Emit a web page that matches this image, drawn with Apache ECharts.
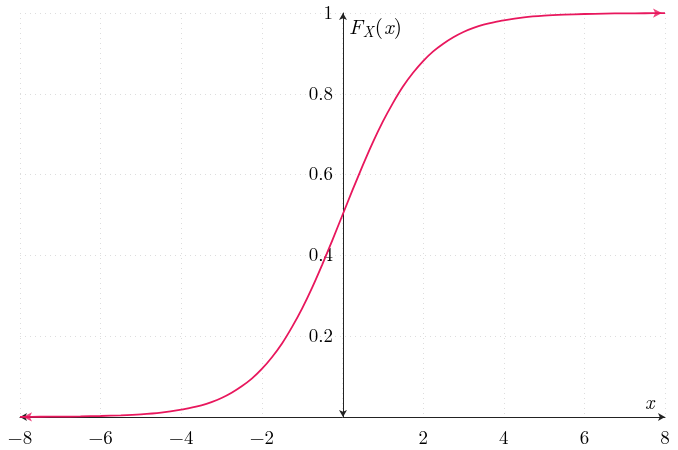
<!DOCTYPE html>
<html><head><meta charset="utf-8">
<script src="https://cdn.jsdelivr.net/npm/echarts@6/dist/echarts.min.js"></script>
<style>html,body{margin:0;padding:0;background:#fff}#c{width:678px;height:450px}</style>
</head><body><div id="c"></div>
<script>
const xValues = [-8,-7.5,-7,-6.5,-6,-5.5,-5,-4.5,-4,-3.75,-3.5,-3.25,-3,-2.75,-2.5,-2.25,-2,-1.75,-1.5,-1.25,-1,-0.75,-0.5,-0.25,0,0.25,0.5,0.75,1,1.25,1.5,1.75,2,2.25,2.5,2.75,3,3.25,3.5,3.75,4,4.5,5,5.5,6,6.5,7,7.5,8];
const cdfValues = [0.0003,0.0006,0.0009,0.0015,0.0025,0.0041,0.0067,0.011,0.018,0.023,0.029,0.037,0.047,0.060,0.076,0.095,0.119,0.148,0.182,0.223,0.269,0.321,0.378,0.438,0.5,0.562,0.622,0.679,0.731,0.777,0.818,0.852,0.881,0.905,0.924,0.940,0.953,0.963,0.971,0.977,0.982,0.989,0.9933,0.9959,0.9975,0.9985,0.9991,0.9994,0.9997];
const xTicks = [-8,-6,-4,-2,2,4,6,8];
const yTicks = [0.2,0.4,0.6,0.8,1];
const xLabel = 'x';

const serif = '"Latin Modern Roman","Liberation Serif","DejaVu Serif",serif';
const red = '#e8175d';
const chart = echarts.init(document.getElementById('c'), null, {renderer:'canvas'});
const pts = xValues.map((x,i)=>[x,cdfValues[i]]);
const n = pts.length;
chart.setOption({
  animation:false,
  grid:{left:20,right:13,top:13,bottom:33,containLabel:false,outerBoundsMode:'none'},
  xAxis:{type:'value',min:-8,max:8,interval:2,
    axisLine:{onZero:false,lineStyle:{color:'#222',width:1},symbol:['arrow','arrow'],symbolSize:[6,7]},
    axisTick:{show:false},
    axisLabel:{fontFamily:serif,fontSize:19,color:'#000',margin:12,
      formatter:v=>xTicks.includes(v)?String(v).replace('-','\u2212'):''},
    splitLine:{show:true,lineStyle:{color:'#ddd',type:[1,4],width:1}},
    name:xLabel,nameLocation:'end',nameGap:-20,
    nameTextStyle:{fontFamily:serif,fontStyle:'italic',fontSize:20,color:'#000',verticalAlign:'bottom',padding:[0,0,4,0]}
  },
  yAxis:{type:'value',min:0,max:1,interval:0.2,offset:-323,
    axisLine:{onZero:false,lineStyle:{color:'#222',width:1},symbol:['arrow','arrow'],symbolSize:[6,7]},
    axisTick:{show:false},
    axisLabel:{fontFamily:serif,fontSize:19,color:'#000',margin:10,
      formatter:v=>{const r=Math.round(v*10)/10; return yTicks.includes(r)?String(r):'';}},
    splitLine:{show:true,lineStyle:{color:'#ddd',type:[1,4],width:1}}
  },
  graphic:[{type:'text',left:349,top:17,style:{
    rich:{i:{fontFamily:serif,fontStyle:'italic',fontSize:21,fill:'#000'},
          s:{fontFamily:serif,fontStyle:'italic',fontSize:15,fill:'#000',padding:[10,1,0,0]},
          r:{fontFamily:serif,fontSize:21,fill:'#000',padding:[0,1,0,0]}},
    text:'{i|F}{s|X}{r|(}{i|x}{r|)}'}}],
  series:[
    {type:'line',data:pts,smooth:0.3,symbol:'none',lineStyle:{color:red,width:1.8},z:5},
    {type:'scatter',data:[pts[0]],symbol:'arrow',symbolSize:[7,9],symbolRotate:90,symbolOffset:[3,0],itemStyle:{color:red},z:6},
    {type:'scatter',data:[pts[n-1]],symbol:'arrow',symbolSize:[7,9],symbolRotate:-90,symbolOffset:[-3,0],itemStyle:{color:red},z:6}
  ]
});
</script></body></html>
